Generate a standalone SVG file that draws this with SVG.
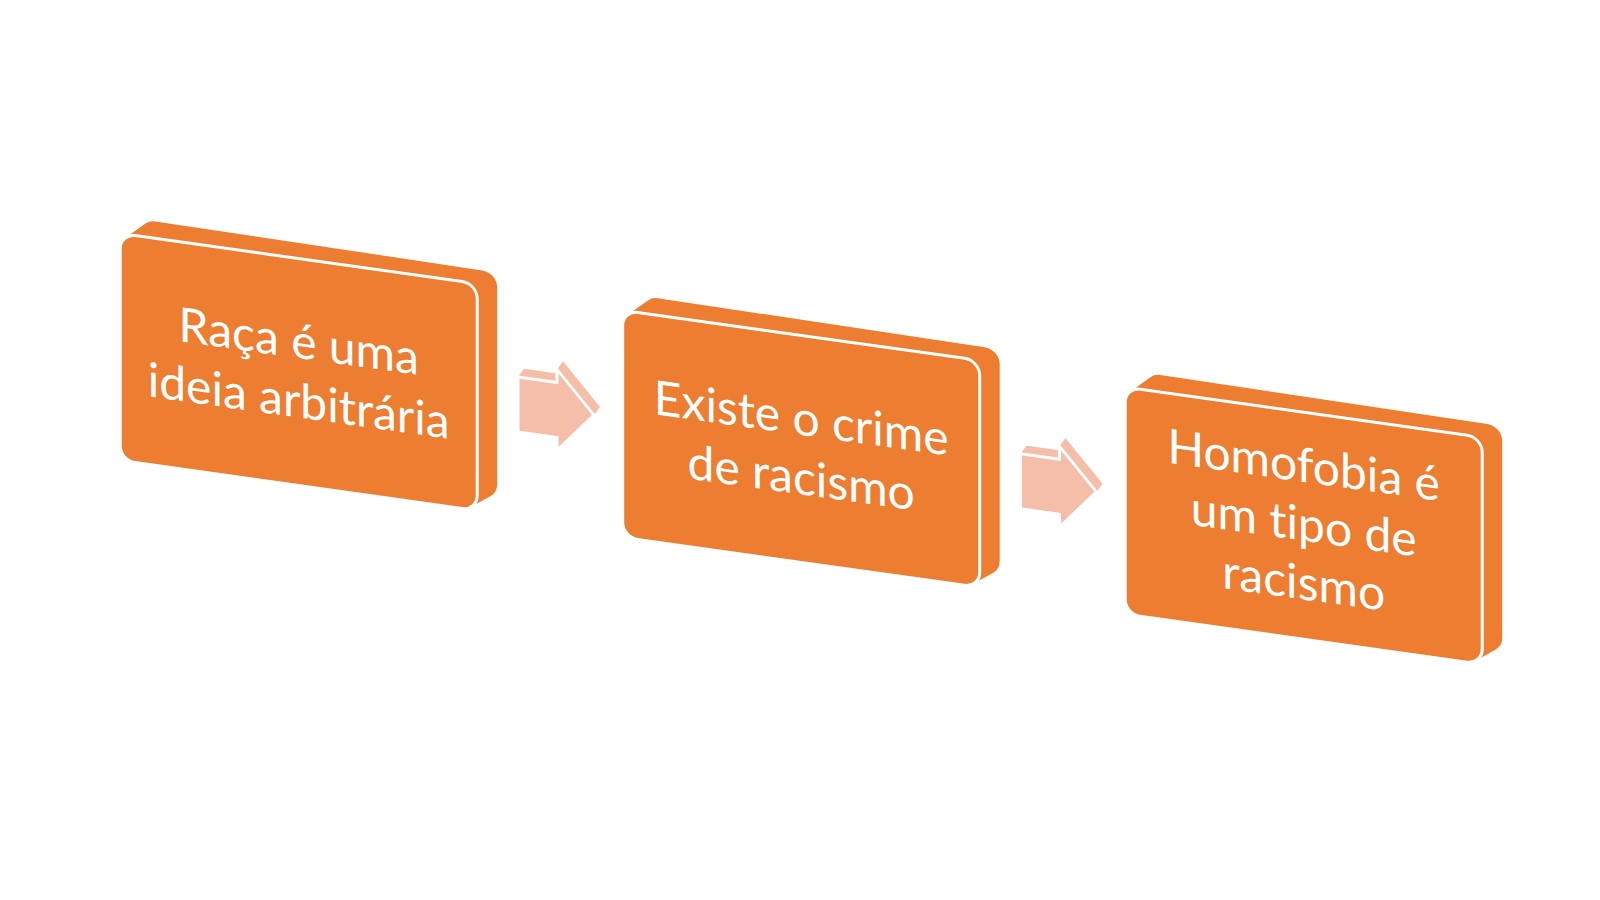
<svg xmlns="http://www.w3.org/2000/svg" width="1600" height="900" viewBox="0 0 1600 900">
<style>
.slab{fill:#ED7D31}
.face{fill:#ED7D31;stroke:#FFFFFF;stroke-width:3}
.lbl{font-family:Lato,"Open Sans",sans-serif;font-size:48px;fill:#FFFFFF;text-anchor:middle;font-variant-ligatures:none;font-feature-settings:"liga" 0,"clig" 0}
.arr-back{fill:#F5BEA9}
.arr-front{fill:#F5BEA9;stroke:#FFFFFF;stroke-width:3;stroke-linejoin:miter}
</style>
<defs>
<path id="slab" d="M35,-17 L362,-14 A15,15 0 0 1 377,1 L377,198 A15,15 0 0 1 370.6,210.3 L350.6,224.3 A15,15 0 0 1 342,227 L15,227 A15,15 0 0 1 0,212 L0,15 A15,15 0 0 1 5.28,3.57 L25.28,-13.43 A15,15 0 0 1 35,-17 Z"/>
<rect id="face" x="0" y="0" width="357" height="227" rx="15" ry="15"/>
<path id="arrBack" d="M0,0 L6,-9 L39,-9 L39,-13 L45,-22 L82,18.5 L76,27.5 L39,68 L39,55 L0,55 Z"/>
<path id="arrFront" d="M0,0 L39,0 L39,-13 L76,27.5 L39,68 L39,55 L0,55 Z"/>
</defs>
<rect x="0" y="0" width="1600" height="900" fill="#FFFFFF"/>
<g id="connectors">
<g id="arrow1" transform="translate(518,377) skewY(8)">
<use href="#arrBack" class="arr-back"/>
<use href="#arrFront" class="arr-front"/>
</g>
<g id="arrow2" transform="translate(1020.5,453.8) skewY(8)">
<use href="#arrBack" class="arr-back"/>
<use href="#arrFront" class="arr-front"/>
</g>
</g>
<g id="node1" transform="translate(120.2,233.5) skewY(8)">
<use href="#slab" class="slab"/>
<use href="#face" class="face"/>
<text class="lbl" x="178.5" y="99.5">Raça é uma</text>
<text class="lbl" x="178.5" y="159">ideia arbitrária</text>
</g>
<g id="node2" transform="translate(622.7,310.3) skewY(8)">
<use href="#slab" class="slab"/>
<use href="#face" class="face"/>
<text class="lbl" x="178.5" y="99.5">Existe o crime</text>
<text class="lbl" x="178.5" y="159">de racismo</text>
</g>
<g id="node3" transform="translate(1125.2,387.1) skewY(8)">
<use href="#slab" class="slab"/>
<use href="#face" class="face"/>
<text class="lbl" x="178.5" y="69.7">Homofobia é</text>
<text class="lbl" x="178.5" y="128.5">um tipo de</text>
<text class="lbl" x="178.5" y="187.3">racismo</text>
</g>
</svg>
